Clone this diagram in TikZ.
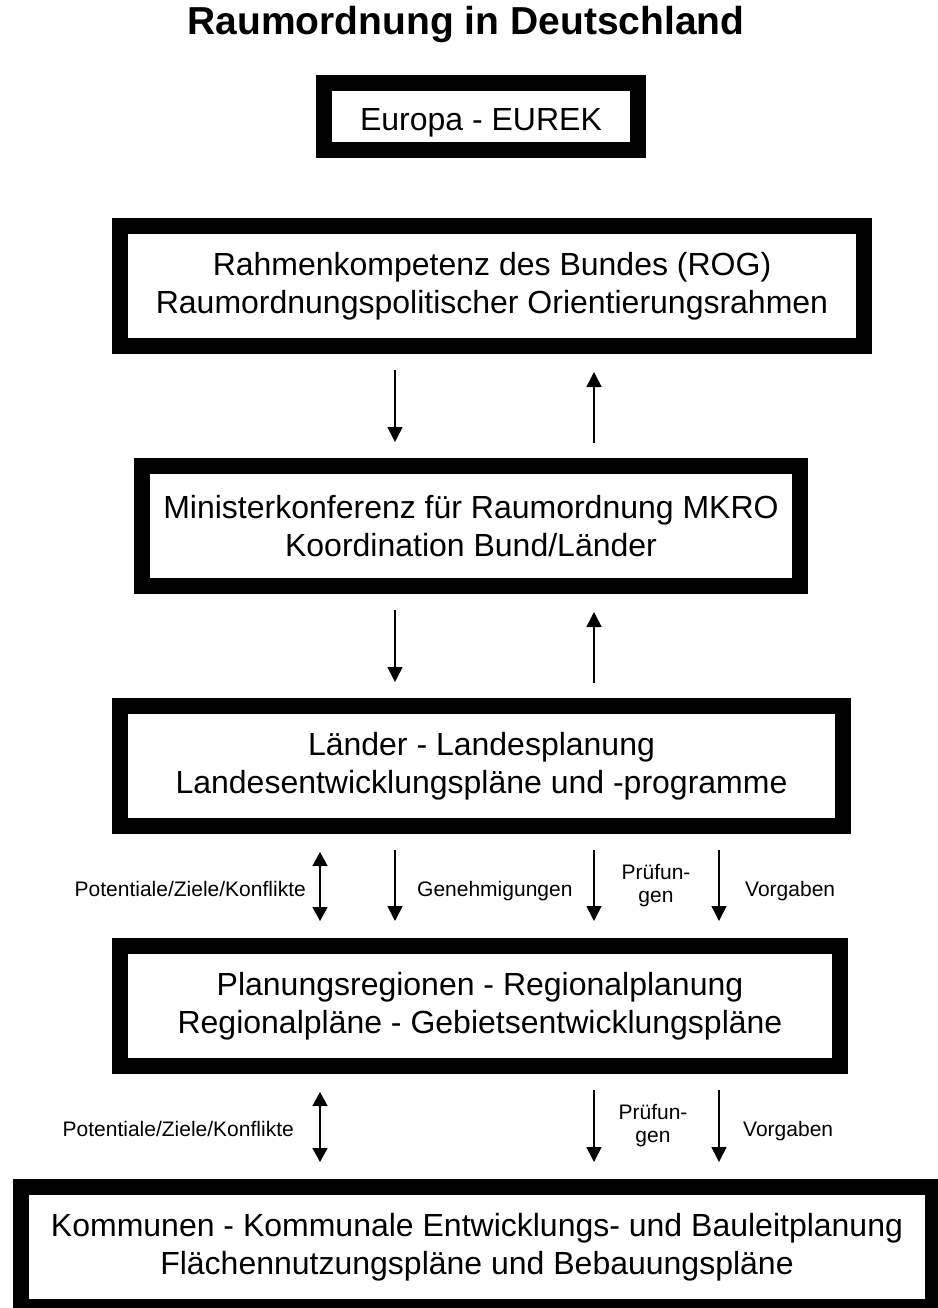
\documentclass[tikz,border=0pt]{standalone}
\usepackage{fontspec}
\setmainfont{Liberation Sans}
\usetikzlibrary{arrows.meta,calc}
\begin{document}
\begin{tikzpicture}[x=1pt,y=-1pt,
  box/.style={draw, line width=16pt, outer sep=8pt, inner sep=0pt, align=center,
    font=\fontsize{32}{38}\selectfont},
  lab/.style={inner sep=0pt, align=center, font=\fontsize{21}{23}\selectfont},
  arr/.style={line width=1.6pt, -{Triangle[length=15pt,width=15pt]}},
  darr/.style={line width=1.6pt, {Triangle[length=14pt,width=15pt]}-{Triangle[length=14pt,width=15pt]}},
  title/.style={inner sep=0pt, font=\fontsize{39}{44}\selectfont\bfseries}]
\useasboundingbox (0,0) rectangle (937,1308);
\fill[white] (0,0) rectangle (937,1308);

\node[title, anchor=base] (t) at (466,35) {Raumordnung in Deutschland};

\node[box, minimum width=314pt, minimum height=67pt, text height=29pt, text depth=0pt] (b1) at (481,116.5) {Europa - EUREK};
\node[box, minimum width=744pt, minimum height=120pt] (b2) at (492,286)
  {Rahmenkompetenz des Bundes (ROG)\\Raumordnungspolitischer Orientierungsrahmen};
\node[box, minimum width=658pt, minimum height=120pt] (b3) at (471,526)
  {Ministerkonferenz für Raumordnung MKRO\\Koordination Bund/Länder};
\node[box, minimum width=723pt, minimum height=120pt] (b4) at (481.5,766)
  {Länder - Landesplanung\\Landesentwicklungspläne und -programme};
\node[box, minimum width=720pt, minimum height=120pt] (b5) at (480,1006)
  {Planungsregionen - Regionalplanung\\Regionalpläne - Gebietsentwicklungspläne};
\node[box, minimum width=912pt, minimum height=120pt] (b6) at (477,1247)
  {Kommunen - Kommunale Entwicklungs- und Bauleitplanung\\Flächennutzungspläne und Bebauungspläne};

\coordinate (xD) at (320,0);
\coordinate (xA) at (395,0);
\coordinate (xB) at (594,0);
\coordinate (xC) at (719,0);

% row 1
\draw[arr] ([yshift=-16pt]b2.south -| xA) -- ([yshift=16pt]b3.north -| xA);
\draw[arr] ([yshift=15pt]b3.north -| xB) -- ([yshift=-18pt]b2.south -| xB);
% row 2
\draw[arr] ([yshift=-16pt]b3.south -| xA) -- ([yshift=16pt]b4.north -| xA);
\draw[arr] ([yshift=15pt]b4.north -| xB) -- ([yshift=-18pt]b3.south -| xB);
% row 3
\draw[darr] ([yshift=-18pt]b4.south -| xD) -- ([yshift=17pt]b5.north -| xD);
\draw[arr] ([yshift=-16pt]b4.south -| xA) -- ([yshift=17pt]b5.north -| xA);
\draw[arr] ([yshift=-16pt]b4.south -| xB) -- ([yshift=17pt]b5.north -| xB);
\draw[arr] ([yshift=-16pt]b4.south -| xC) -- ([yshift=17pt]b5.north -| xC);
% row 4
\draw[darr] ([yshift=-18pt]b5.south -| xD) -- ([yshift=17pt]b6.north -| xD);
\draw[arr] ([yshift=-16pt]b5.south -| xB) -- ([yshift=17pt]b6.north -| xB);
\draw[arr] ([yshift=-16pt]b5.south -| xC) -- ([yshift=17pt]b6.north -| xC);

% labels row 3
\node[lab, anchor=base east] (l1) at (306,896) {Potentiale/Ziele/Konflikte};
\node[lab, anchor=base west] (l2) at (417,896) {Genehmigungen};
\node[lab] (l3) at (656,886) {Prüfun-\\gen};
\node[lab, anchor=base west] (l4) at (745,896) {Vorgaben};
% labels row 4
\node[lab, anchor=base east] (l5) at (294,1136) {Potentiale/Ziele/Konflikte};
\node[lab] (l6) at (653,1126) {Prüfun-\\gen};
\node[lab, anchor=base west] (l7) at (743,1136) {Vorgaben};
\end{tikzpicture}
\end{document}
